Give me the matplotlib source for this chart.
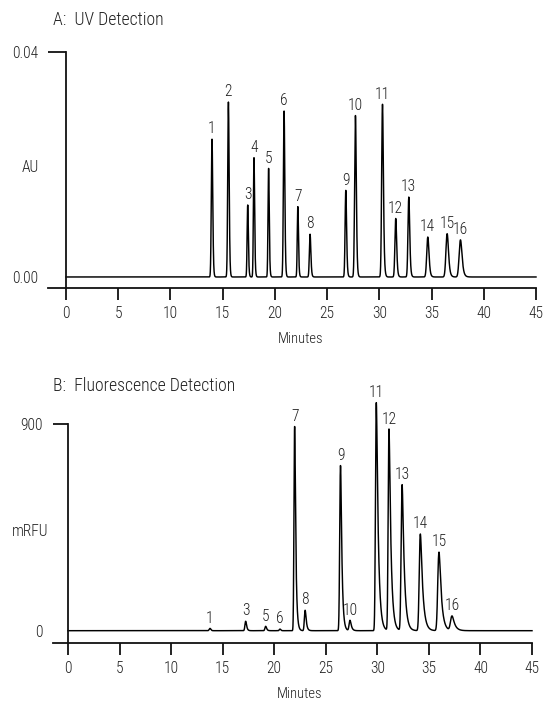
import numpy as np
import matplotlib
matplotlib.use('Agg')
import matplotlib.pyplot as plt
from matplotlib import font_manager as fm

# ---------------- data ----------------
# Panel A: UV detection (AU)
uv_labels = ['1', '2', '3', '4', '5', '6', '7', '8', '9', '10', '11', '12', '13', '14', '15', '16']
uv_times = [13.98, 15.55, 17.40, 18.00, 19.40, 20.88, 22.20, 23.37, 26.79, 27.71, 30.30, 31.57, 32.82, 34.64, 36.49, 37.77]
uv_heights = [0.0245, 0.0311, 0.0128, 0.0212, 0.0193, 0.0295, 0.0125, 0.0076, 0.0154, 0.0287, 0.0307, 0.0104, 0.0142, 0.0071, 0.0077, 0.0066]
uv_sigma = [0.06, 0.06, 0.05, 0.05, 0.05, 0.06, 0.05, 0.06, 0.06, 0.07, 0.07, 0.07, 0.07, 0.09, 0.10, 0.11]
uv_tau = [0.04, 0.04, 0.04, 0.04, 0.04, 0.04, 0.04, 0.05, 0.05, 0.05, 0.06, 0.06, 0.06, 0.08, 0.10, 0.12]

# Panel B: fluorescence detection (mRFU)
fl_labels = ['1', '3', '5', '6', '7', '8', '9', '10', '11', '12', '13', '14', '15', '16']
fl_times = [13.77, 17.23, 19.17, 20.56, 21.98, 23.00, 26.43, 27.35, 29.90, 31.13, 32.40, 34.17, 35.98, 37.24]
fl_heights = [10, 41, 19, 7, 889, 89, 719, 45, 993, 877, 635, 421, 342, 63]
fl_sigma = [0.07, 0.06, 0.06, 0.06, 0.05, 0.06, 0.06, 0.07, 0.06, 0.06, 0.07, 0.08, 0.09, 0.11]
fl_tau = [0.05, 0.08, 0.08, 0.05, 0.10, 0.10, 0.12, 0.12, 0.18, 0.18, 0.20, 0.22, 0.22, 0.25]

x_ticks = [0, 5, 10, 15, 20, 25, 30, 35, 40, 45]

# ---------------- font ----------------
names = {f.name for f in fm.fontManager.ttflist}
stretch = 'normal'
if 'Roboto Condensed' in names:
    fam = 'Roboto Condensed'
elif 'Liberation Sans Narrow' in names:
    fam = 'Liberation Sans Narrow'
elif any('Condensed' in f.fname and 'DejaVuSans' in f.fname for f in fm.fontManager.ttflist):
    fam = 'DejaVu Sans'
    stretch = 'condensed'
else:
    fam = 'Roboto'
plt.rcParams['font.family'] = [fam, 'DejaVu Sans']
plt.rcParams['font.stretch'] = stretch
plt.rcParams['font.weight'] = 'light'
plt.rcParams['axes.labelweight'] = 'light'
TXT = '#222222'
FS = 11.2

# ---------------- chromatogram builder ----------------
dt = 0.005
t = np.arange(0, 45 + dt / 2, dt)


def trace(times, heights, sigmas, taus):
    y = np.zeros_like(t)
    for t0, h, s, tau in zip(times, heights, sigmas, taus):
        g = np.exp(-0.5 * ((t - t0) / s) ** 2)
        k = np.exp(-np.arange(0, int(8 * tau / dt) + 1) * dt / tau)
        c = np.convolve(g, k)[:len(t)]
        c = c / c.max()
        shift = int(np.argmax(c)) - int(round(t0 / dt))
        c = np.roll(c, -shift)
        y += h * c
    return y


def style_axes(ax, ylo, yhi, yticks, yticklabels, ytick_len, left_ext):
    ax.set_xlim(0, 45)
    ax.set_ylim(ylo, yhi)
    for s in ('top', 'right'):
        ax.spines[s].set_visible(False)
    for s in ('left', 'bottom'):
        ax.spines[s].set_linewidth(1.3)
        ax.spines[s].set_color('#111111')
    ax.spines['bottom'].set_bounds(-left_ext, 45)
    ax.set_xticks(x_ticks)
    ax.set_xticklabels([str(v) for v in x_ticks])
    ax.tick_params(axis='x', direction='out', length=8.5, width=1.3, color='#111111',
                   labelsize=FS, labelcolor=TXT, pad=4.5)
    ax.set_yticks(yticks)
    ax.set_yticklabels(yticklabels)
    ax.tick_params(axis='y', direction='out', length=ytick_len, width=1.3, color='#111111',
                   labelsize=FS, labelcolor=TXT, pad=7)
    ax.yaxis.get_major_ticks()[0].tick1line.set_visible(False)
    ax.set_xlabel('Minutes', fontsize=10.5, color=TXT, labelpad=8, fontweight='light')
    ax.patch.set_alpha(0)


fig = plt.figure(figsize=(5.44, 7.06), dpi=100)

# Panel A
axA = fig.add_axes([66 / 544, 1 - 288 / 706, 470 / 544, 236 / 706])
yA = trace(uv_times, uv_heights, uv_sigma, uv_tau)
axA.plot(t, yA, color='black', lw=1.05, clip_on=False)
style_axes(axA, -0.00196, 0.04, [0.0, 0.04], ['0.00', '0.04'], 13, 1.75)
for lab, t0, h in zip(uv_labels, uv_times, uv_heights):
    axA.annotate(lab, (t0, h), xytext=(0, 2), textcoords='offset points',
                 ha='center', va='bottom', fontsize=FS, color=TXT, annotation_clip=False)
fig.text(30 / 544, 1 - 168 / 706, 'AU', ha='center', va='center', fontsize=FS, color=TXT)
fig.text(53 / 544, 1 - 20 / 706, 'A:  UV Detection', ha='left', va='center', fontsize=12.8, color=TXT)

# Panel B
axB = fig.add_axes([68 / 544, 1 - 643 / 706, 464 / 544, 219 / 706])
yB = trace(fl_times, fl_heights, fl_sigma, fl_tau)
axB.plot(t, yB, color='black', lw=1.05, clip_on=False)
style_axes(axB, -53.6, 900, [0, 900], ['0', '900'], 11, 1.45)
for lab, t0, h in zip(fl_labels, fl_times, fl_heights):
    axB.annotate(lab, (t0, h), xytext=(0, 2), textcoords='offset points',
                 ha='center', va='bottom', fontsize=FS, color=TXT, annotation_clip=False)
fig.text(30 / 544, 1 - 531 / 706, 'mRFU', ha='center', va='center', fontsize=FS, color=TXT)
fig.text(53 / 544, 1 - 386 / 706, 'B:  Fluorescence Detection', ha='left', va='center', fontsize=12.8, color=TXT)

fig.savefig('out.png', dpi=100)
